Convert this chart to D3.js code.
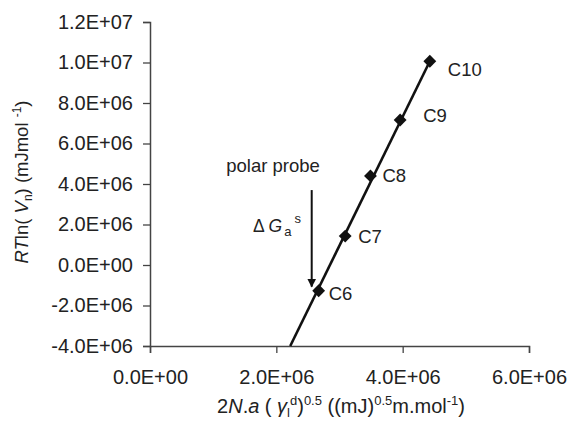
<!DOCTYPE html>
<html>
<head>
<meta charset="utf-8">
<script src="https://cdn.jsdelivr.net/npm/d3@7"></script>
<style>
  body { margin: 0; background: #fff; }
  text { font-family: "Liberation Sans", Arial, sans-serif; fill: #222; }
</style>
</head>
<body>
<div id="chart"></div>
<script>
// probe data (n-alkanes)
const labels = ["C6", "C7", "C8", "C9", "C10"];
const xValues = [2.67e6, 3.09e6, 3.49e6, 3.96e6, 4.43e6];
const yValues = [-1.27e6, 1.43e6, 4.40e6, 7.16e6, 1.006e7];
// regression line ends
const lineX = [2.22e6, 4.43e6];
const lineY = [-4.0e6, 1.006e7];
// polar probe arrow (x, y top, y bottom)
const arrowX = 2.56e6;
const arrowY = [3.7e6, -1.07e6];
const xTicks = [0, 2e6, 4e6, 6e6];
const yTicks = [-4e6, -2e6, 0, 2e6, 4e6, 6e6, 8e6, 1e7, 1.2e7];

// label offsets in px
const labelDx = [10, 13, 12, 23, 18];
const labelDy = [9, 7, 6, 2, 15];

const width = 570, height = 421;
const margin = {left: 150, right: 41, top: 22, bottom: 75};

const svg = d3.select("#chart").append("svg")
  .attr("width", width).attr("height", height);

const x = d3.scaleLinear().domain([0, 6e6]).range([margin.left, width - margin.right]);
const y = d3.scaleLinear().domain([-4e6, 1.2e7]).range([height - margin.bottom, margin.top]);

function sci(v) {
  if (v === 0) return "0.0E+00";
  const e = Math.floor(Math.log10(Math.abs(v)));
  const m = v / Math.pow(10, e);
  return m.toFixed(1) + "E+" + String(e).padStart(2, "0");
}

const xAxis = svg.append("g")
  .attr("transform", `translate(0,${y(-4e6)})`)
  .call(d3.axisBottom(x).tickValues(xTicks).tickFormat(sci).tickSize(7).tickPadding(17));
const yAxis = svg.append("g")
  .attr("transform", `translate(${x(0)},0)`)
  .call(d3.axisLeft(y).tickValues(yTicks).tickFormat(sci).tickSize(7).tickPadding(10));

[xAxis, yAxis].forEach(g => {
  g.select(".domain").attr("stroke", "#444").attr("stroke-width", 1.5);
  g.selectAll(".tick line").attr("stroke", "#444").attr("stroke-width", 1.3);
  g.selectAll(".tick text").style("font-size", "20px")
    .style("font-family", "'Liberation Sans', Arial, sans-serif").attr("fill", "#222");
});

// trend line
svg.append("line")
  .attr("x1", x(lineX[0])).attr("y1", y(lineY[0]))
  .attr("x2", x(lineX[1])).attr("y2", y(lineY[1]))
  .attr("stroke", "#111").attr("stroke-width", 2.6);

const pts = labels.map((l, i) => ({label: l, x: xValues[i], y: yValues[i], dx: labelDx[i], dy: labelDy[i]}));

svg.selectAll("path.pt").data(pts).enter()
  .append("path")
  .attr("class", "pt")
  .attr("d", d3.symbol().type(d3.symbolDiamond2).size(105))
  .attr("transform", d => `translate(${x(d.x)},${y(d.y)})`)
  .attr("fill", "#111");

svg.selectAll("text.lab").data(pts).enter()
  .append("text")
  .attr("class", "lab")
  .attr("x", d => x(d.x) + d.dx)
  .attr("y", d => y(d.y) + d.dy)
  .style("font-size", "18.5px")
  .text(d => d.label);

// arrow
svg.append("defs").append("marker")
  .attr("id", "ah").attr("viewBox", "0 0 10 10")
  .attr("refX", 9).attr("refY", 5)
  .attr("markerWidth", 4.5).attr("markerHeight", 4.5)
  .attr("orient", "auto")
  .append("path").attr("d", "M0,0 L10,5 L0,10 z").attr("fill", "#111");

svg.append("line")
  .attr("x1", x(arrowX)).attr("y1", y(arrowY[0]))
  .attr("x2", x(arrowX)).attr("y2", y(arrowY[1]))
  .attr("stroke", "#111").attr("stroke-width", 2)
  .attr("marker-end", "url(#ah)");

svg.append("text")
  .attr("x", 273).attr("y", 172)
  .attr("text-anchor", "middle")
  .style("font-size", "18.5px")
  .text("polar probe");

const dg = svg.append("text")
  .attr("x", 253).attr("y", 232)
  .style("font-size", "17.5px");
dg.append("tspan").text("\u0394 ");
dg.append("tspan").style("font-style", "italic").text("G");
dg.append("tspan").attr("dy", 4).attr("dx", 2).style("font-size", "13px").text("a");
dg.append("tspan").attr("dy", -13).attr("dx", 3).style("font-size", "13px").text("s");

// y axis title
const yt = svg.append("text")
  .attr("transform", `translate(28,182) rotate(-90)`)
  .attr("text-anchor", "middle")
  .style("font-size", "18.5px");
yt.append("tspan").style("font-style", "italic").text("RT");
yt.append("tspan").text("ln( ");
yt.append("tspan").style("font-style", "italic").text("V");
yt.append("tspan").attr("dy", 4).style("font-size", "12px").text("n");
yt.append("tspan").attr("dy", -4).text(") (mJmol ");
yt.append("tspan").attr("dy", -7).style("font-size", "12px").text("-1");
yt.append("tspan").attr("dy", 7).text(")");

// x axis title
const xt = svg.append("text")
  .attr("x", 341).attr("y", 413)
  .attr("text-anchor", "middle")
  .style("font-size", "20px");
xt.append("tspan").text("2");
xt.append("tspan").style("font-style", "italic").text("N");
xt.append("tspan").text(".");
xt.append("tspan").style("font-style", "italic").text("a");
xt.append("tspan").text(" ( ");
xt.append("tspan").style("font-style", "italic").text("\u03B3");
xt.append("tspan").attr("dy", 4).style("font-size", "13px").text("l");
xt.append("tspan").attr("dy", -12).style("font-size", "13px").text("d");
xt.append("tspan").attr("dy", 8).text(")");
xt.append("tspan").attr("dy", -8).style("font-size", "13px").text("0.5");
xt.append("tspan").attr("dy", 8).text(" ((mJ)");
xt.append("tspan").attr("dy", -8).style("font-size", "13px").text("0.5");
xt.append("tspan").attr("dy", 8).text("m.mol");
xt.append("tspan").attr("dy", -8).style("font-size", "13px").text("-1");
xt.append("tspan").attr("dy", 8).text(")");
</script>
</body>
</html>
